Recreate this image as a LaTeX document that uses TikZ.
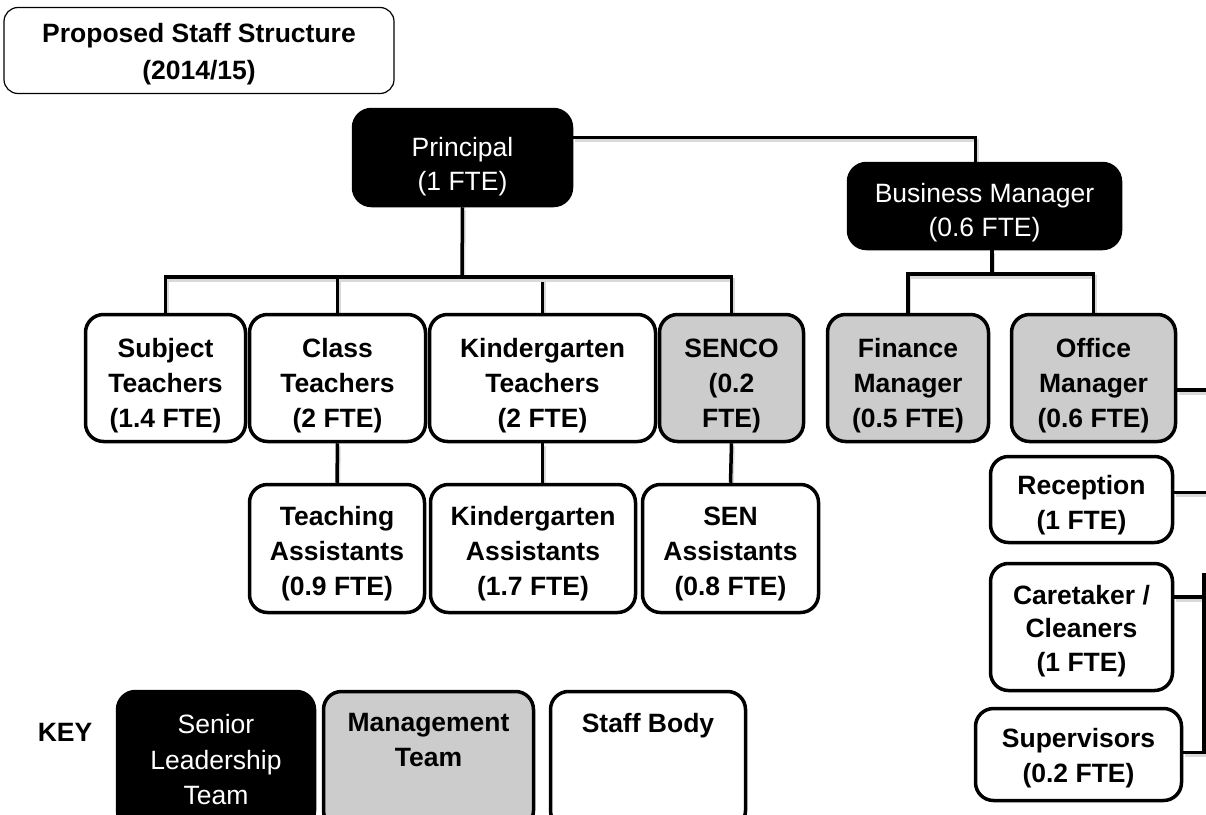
\documentclass[tikz,border=0pt]{standalone}
\usepackage{fontspec}
\setmainfont{Liberation Sans}
\usepackage{tikz}
\usetikzlibrary{backgrounds}

\newcommand{\toppad}[1]{\rule{0pt}{#1pt}}

\begin{document}
\begin{tikzpicture}[x=1pt, y=-1pt,
    every node/.style={align=center, font=\fontsize{26.5}{35}\selectfont\bfseries},
    box/.style={draw=black, line width=3.5pt, rounded corners=18pt, inner sep=0pt},
    staff/.style={box, fill=white},
    mgmt/.style={box, fill=black!20},
    senior/.style={box, fill=black, text=white, font=\fontsize{26.5}{34}\selectfont},
    link/.style={line width=3.5pt, preaction={draw=black!15, line width=3.5pt, transform canvas={shift={(1.5pt,-3pt)}}}}]

    \clip (0,0) rectangle (1206,814);

    \node[draw, line width=1.2pt, rounded corners=14pt, minimum width=390pt, minimum height=86pt, font=\fontsize{26.5}{37}\selectfont\bfseries] (title) at (199,50.5) {\toppad{27}Proposed Staff Structure\\(2014/15)};

    \node[senior, minimum width=218pt, minimum height=96pt] (prin) at (462.5,157.5) {\toppad{37}Principal\\(1 FTE)};
    \node[senior, minimum width=272pt, minimum height=85pt] (bm) at (984.5,206) {\toppad{33}Business Manager\\(0.6 FTE)};

    % first row
    \node[staff, minimum width=160pt, minimum height=127pt] (subj) at (165.5,378) {\toppad{35}Subject\\Teachers\\(1.4 FTE)};
    \node[staff, minimum width=176pt, minimum height=127pt] (cls) at (337.5,378) {\toppad{35}Class\\Teachers\\(2 FTE)};
    \node[staff, minimum width=226pt, minimum height=127pt] (kgt) at (542.5,378) {\toppad{35}Kindergarten\\Teachers\\(2 FTE)};
    \node[mgmt, minimum width=144pt, minimum height=127pt] (senco) at (731.5,378) {\toppad{35}SENCO\\(0.2\\FTE)};
    \node[mgmt, minimum width=161pt, minimum height=127pt] (fin) at (908,378) {\toppad{35}Finance\\Manager\\(0.5 FTE)};
    \node[mgmt, minimum width=164pt, minimum height=127pt] (off) at (1093.5,378) {\toppad{35}Office\\Manager\\(0.6 FTE)};

    % assistants
    \node[staff, minimum width=175pt, minimum height=128pt] (ta) at (337,548.5) {\toppad{29}Teaching\\Assistants\\(0.9 FTE)};
    \node[staff, minimum width=205pt, minimum height=128pt] (ka) at (533,548.5) {\toppad{29}Kindergarten\\Assistants\\(1.7 FTE)};
    \node[staff, minimum width=176pt, minimum height=128pt] (sa) at (730.5,548.5) {\toppad{29}SEN\\Assistants\\(0.8 FTE)};

    % office staff
    \node[staff, minimum width=182pt, minimum height=86pt] (rec) at (1081.5,499.5) {\toppad{31}Reception\\(1 FTE)};
    \node[staff, minimum width=182pt, minimum height=127pt, font=\fontsize{26.5}{33.5}\selectfont\bfseries] (care) at (1081.5,627) {\toppad{27}Caretaker /\\Cleaners\\(1 FTE)};
    \node[staff, minimum width=206pt, minimum height=92pt] (sup) at (1078.5,754.5) {\toppad{26}Supervisors\\(0.2 FTE)};

    % key
    \node (key) at (65,732) {KEY};
    \node[senior, minimum width=197pt, minimum height=137pt, font=\fontsize{26.5}{35.5}\selectfont] (kslt) at (216,760) {Senior\\Leadership\\Team};
    \node[mgmt, minimum width=210pt, minimum height=137pt] (kmt) at (428.5,760) {};
    \node[staff, minimum width=195pt, minimum height=137pt] (ksb) at (648,760) {};
    \node[anchor=north] (kmttext) at ([yshift=-20pt]kmt.north) {Management\\Team};
    \node[anchor=north] (ksbtext) at ([yshift=-20pt]ksb.north) {Staff Body};

    \begin{scope}[on background layer]
    \coordinate (pbar) at (462,277);
    \coordinate (bbar) at (992,274);
    \coordinate (rail) at (1204,573);
    \coordinate (edge) at (1206,0);

    \draw[link] (prin.south) -- (pbar);
    \foreach \n in {subj,cls,kgt,senco}
        \draw[link] (\n.north) |- (pbar);

    \draw[link] (cls.south) -- (ta.north);
    \draw[link] (kgt.south) -- (kgt.south |- ka.north);
    \draw[link] (senco.south) -- (sa.north);

    \draw[link] ([yshift=20pt]prin.east) -| ([xshift=-9pt]bm.north);
    \draw[link] (bbar |- bm.south) -- (bbar);
    \foreach \n in {fin,off}
        \draw[link] (\n.north) |- (bbar);

    \draw[link] ([yshift=-12pt]off.east) -- ([yshift=-12pt]off.east -| edge);
    \draw[link] ([yshift=7pt]rec.east) -- ([yshift=7pt]rec.east -| edge);
    \draw[link] ([yshift=30pt]care.east) -| (rail);
    \draw[link] ([yshift=2pt]sup.east) -| (rail);
    \end{scope}

\end{tikzpicture}
\end{document}
